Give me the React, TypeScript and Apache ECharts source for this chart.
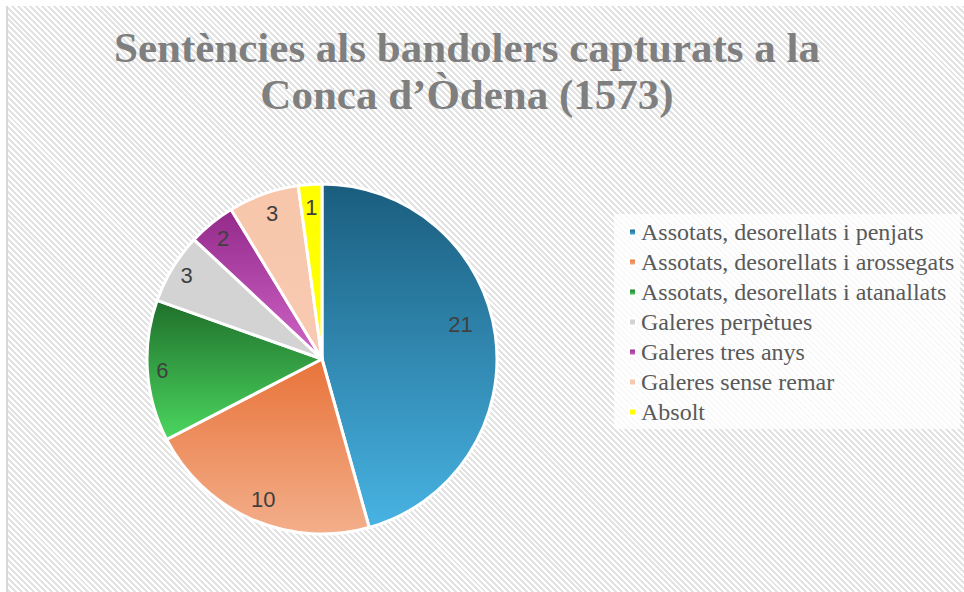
import React, { useEffect, useRef } from "react";
import * as echarts from "echarts";

const titleLines = ["Sentències als bandolers capturats a la", "Conca d’Òdena (1573)"];
const categories = [
  "Assotats, desorellats i penjats",
  "Assotats, desorellats i arossegats",
  "Assotats, desorellats i atanallats",
  "Galeres perpètues",
  "Galeres tres anys",
  "Galeres sense remar",
  "Absolt",
];
const values = [21, 10, 6, 3, 2, 3, 1];

// styling (not data)
const gradientTop = ["#1a5d7e", "#e8733a", "#1f6f2b", "#d3d3d3", "#932a8a", "#f7c6ab", "#ffff00"];
const gradientBottom = ["#48b3e3", "#f3af8b", "#4bd65f", "#d3d3d3", "#d065c8", "#f8cab1", "#ffff00"];
const labelNudges = [[-15, -13], [3, -2], [-5, 1], [-3, -3], [-1, 0], [2, 1], [0, 3]];

export default function App() {
  const ref = useRef<HTMLDivElement>(null);
  useEffect(() => {
    if (!ref.current) return;
    const chart = echarts.init(ref.current, undefined, { renderer: "svg" });
    const center = [322, 359];
    const mainData = categories.map((name, i) => ({
      name,
      value: values[i],
      itemStyle: {
        color: new echarts.graphic.LinearGradient(0, 0, 0, 1, [
          { offset: 0, color: gradientTop[i] },
          { offset: 1, color: gradientBottom[i] },
        ]),
      },
    }));
    const labelData = categories.map((name, i) => ({
      name,
      value: values[i],
      label: { offset: labelNudges[i] },
    }));
    chart.setOption({
      animation: false,
      backgroundColor: "transparent",
      graphic: titleLines.map((t, i) => ({
        type: "text",
        x: 467,
        y: 47.5 + i * 47,
        silent: true,
        style: {
          text: t,
          fill: "#7f7f7f",
          font: "bold 43px 'Liberation Serif', 'Times New Roman', serif",
          textAlign: "center",
          textVerticalAlign: "middle",
        },
      })),
      legend: {
        orient: "vertical",
        left: 614,
        top: 214,
        padding: [6, 6, 5, 14],
        backgroundColor: "rgba(255,255,255,0.78)",
        itemWidth: 7,
        itemHeight: 7,
        itemGap: 6,
        icon: "rect",
        data: categories,
        selectedMode: false,
        textStyle: {
          fontFamily: "'Liberation Serif', 'Times New Roman', serif",
          fontSize: 24,
          lineHeight: 24,
          color: "#595959",
        },
      },
      series: [
        {
          type: "pie",
          center,
          radius: [0, 175],
          startAngle: 90,
          clockwise: true,
          avoidLabelOverlap: false,
          silent: true,
          label: { show: false },
          labelLine: { show: false },
          emphasis: { disabled: true },
          itemStyle: { borderColor: "#ffffff", borderWidth: 3 },
          data: mainData,
        },
        {
          type: "pie",
          center,
          radius: [129, 175],
          startAngle: 90,
          clockwise: true,
          avoidLabelOverlap: false,
          silent: true,
          legendHoverLink: false,
          emphasis: { disabled: true },
          itemStyle: { color: "rgba(0,0,0,0)", borderWidth: 0 },
          label: {
            show: true,
            position: "inside",
            formatter: "{c}",
            fontFamily: "'Liberation Sans', Arial, sans-serif",
            fontSize: 22,
            color: "#404040",
          },
          labelLine: { show: false },
          data: labelData,
        },
      ],
    });
    return () => chart.dispose();
  }, []);
  return (
    <div style={{ position: "fixed", left: 0, top: 0, width: 964, height: 592, background: "#ffffff", overflow: "hidden" }}>
      <div
        style={{
          position: "absolute",
          left: 6,
          top: 6,
          width: 980,
          height: 600,
          borderLeft: "2px solid #d9d9d9",
          backgroundColor: "#ffffff",
          backgroundImage: "repeating-linear-gradient(45deg, #ffffff 0px, #ffffff 2.1px, #e3e3e3 2.1px, #e3e3e3 4.2px)",
        }}
      />
      <div ref={ref} style={{ position: "absolute", left: 0, top: 0, width: 964, height: 592 }} />
    </div>
  );
}
